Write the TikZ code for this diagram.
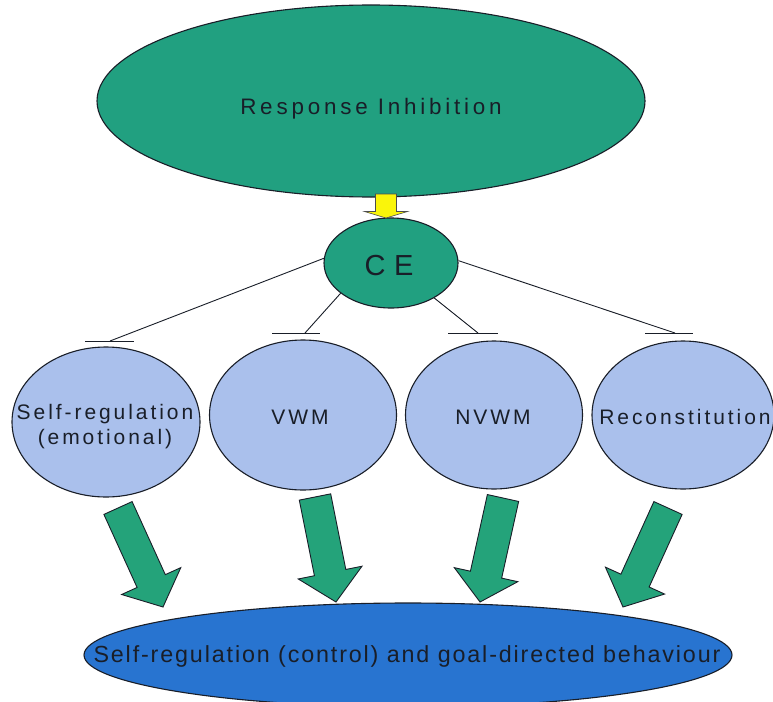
\documentclass[tikz,border=0pt]{standalone}
\usepackage{fontspec}
\setmainfont{Liberation Sans}
\usetikzlibrary{shapes.geometric,calc}

\definecolor{tealfill}{RGB}{33,160,128}
\definecolor{arrowgreen}{RGB}{36,163,122}
\definecolor{paleblue}{RGB}{170,192,236}
\definecolor{deepblue}{RGB}{40,116,208}
\definecolor{lemon}{RGB}{250,245,10}
\definecolor{outline}{RGB}{25,30,40}

% block arrow: #1 tail centre, #2 tip, #3 shaft half-width,
% #4 head half-width, #5 head length, #6 style
\newcommand\blockarrow[6]{%
  \coordinate (#1-base) at ($(#2)!#5!(#1)$);
  \draw[#6] ($(#1)!#3!90:(#2)$) -- ($(#1-base)!#3!90:(#2)$)
    -- ($(#1-base)!#4!90:(#2)$) -- (#2)
    -- ($(#1-base)!#4!-90:(#2)$) -- ($(#1-base)!#3!-90:(#2)$)
    -- ($(#1)!#3!-90:(#2)$) -- cycle;
}

\begin{document}
\begin{tikzpicture}[x=1pt,y=-1pt,
  oval/.style={ellipse, draw=outline, line width=1.1pt, inner sep=0pt},
  tealoval/.style={oval, fill=tealfill},
  blueoval/.style={oval, fill=paleblue},
  label20/.style={anchor=base, inner sep=0pt, text=outline,
    font={\fontsize{21}{25}\selectfont\addfontfeatures{LetterSpace=14}}},
  link/.style={line width=0.9pt, draw=outline},
  tick/.style={line width=0.9pt, draw=outline},
  greenarrow/.style={fill=arrowgreen, draw=outline, line width=0.9pt, line join=miter},
  yellowarrow/.style={fill=lemon, draw=black!70, line width=0.6pt}
]
\useasboundingbox (0,0) rectangle (773,701);
\fill[white] (0,0) rectangle (773,701);

% top level
\node[tealoval, minimum width=548pt, minimum height=192pt] (ri) at (371,101) {};
\node[anchor=base, inner sep=0pt, text=outline,
  font={\fontsize{22.4}{26}\selectfont\addfontfeatures{LetterSpace=17}}]
  (ritext) at (371,114) {Response Inhibition};

% central executive
\node[tealoval, minimum width=134pt, minimum height=90pt] (ce) at (391,263) {};
\node[anchor=base, inner sep=0pt, text=outline,
  font={\fontsize{29}{33}\selectfont\addfontfeatures{LetterSpace=30}}]
  (cetext) at (389,275) {CE};

% arrow between the two
\coordinate (ya-tail) at (386,194);
\coordinate (ya-tip) at (386,218);
\blockarrow{ya-tail}{ya-tip}{10.5pt}{21.5pt}{6.5pt}{yellowarrow}

% four components
\node[blueoval, minimum width=188pt, minimum height=150pt] (sr) at (106,422) {};
\node[blueoval, minimum width=187pt, minimum height=150pt] (vwm) at (303,415) {};
\node[blueoval, minimum width=177pt, minimum height=148pt] (nvwm) at (494,415) {};
\node[blueoval, minimum width=182pt, minimum height=148pt] (rec) at (683,415) {};

\node[label20] (srtext1) at (105,419) {Self-regulation};
\node[label20] (srtext2) at (105,444) {(emotional)};
\node[label20] (vwmtext) at (300,424) {VWM};
\node[label20] (nvwmtext) at (493,424) {NVWM};
\node[label20] (rectext) at (685,424) {Reconstitution};

% tick bars above the components
\coordinate (t1l) at (85,341);  \coordinate (t1r) at (134,341); \coordinate (t1) at (110,341);
\coordinate (t2l) at (272,333); \coordinate (t2r) at (320,333); \coordinate (t2) at (305,333);
\coordinate (t3l) at (448,333); \coordinate (t3r) at (498,333); \coordinate (t3) at (478,333);
\coordinate (t4l) at (645,333); \coordinate (t4r) at (693,333); \coordinate (t4) at (675,333);
\draw[tick] (t1l) -- (t1r);
\draw[tick] (t2l) -- (t2r);
\draw[tick] (t3l) -- (t3r);
\draw[tick] (t4l) -- (t4r);

\draw[link] (ce.176) -- (t1);
\draw[link] (ce.211) -- (t2);
\draw[link] (ce.321) -- (t3);
\draw[link] (ce.2) -- (t4);

% outcome
\node[oval, fill=deepblue, draw=outline, minimum width=648pt, minimum height=104pt] (out) at (408,655) {};
\node[anchor=base, inner sep=0pt, text=outline,
  font={\fontsize{23.3}{27}\selectfont\addfontfeatures{LetterSpace=8}}]
  (outtext) at (407,662) {Self-regulation (control) and goal-directed behaviour};

% arrows into the outcome
\coordinate (g1-tail) at (118,508); \coordinate (g1-tip) at (163,607);
\coordinate (g2-tail) at (315,497); \coordinate (g2-tip) at (336,602);
\coordinate (g3-tail) at (503,498); \coordinate (g3-tip) at (480,602);
\coordinate (g4-tail) at (668,508); \coordinate (g4-tip) at (623,607);
\blockarrow{g1-tail}{g1-tip}{15.5pt}{32.5pt}{28.5pt}{greenarrow}
\blockarrow{g2-tail}{g2-tip}{16pt}{32.5pt}{30pt}{greenarrow}
\blockarrow{g3-tail}{g3-tip}{16pt}{32.5pt}{28pt}{greenarrow}
\blockarrow{g4-tail}{g4-tip}{15.5pt}{32.5pt}{29pt}{greenarrow}
\end{tikzpicture}
\end{document}
